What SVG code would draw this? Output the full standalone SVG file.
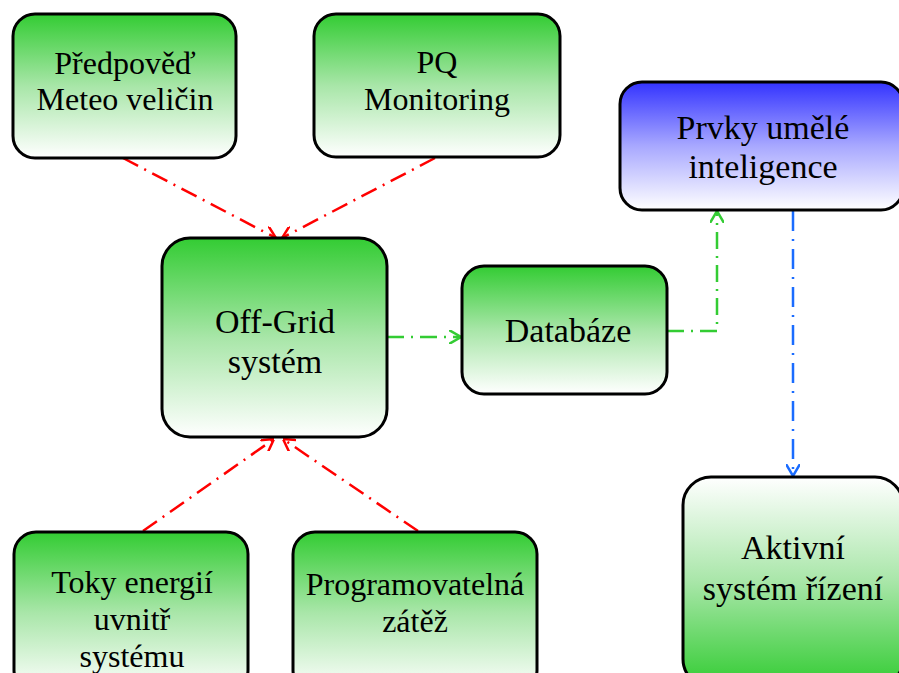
<svg xmlns="http://www.w3.org/2000/svg" width="899" height="673" viewBox="0 0 899 673">
<style>
.box{stroke:#000;stroke-width:3}
.t{font-family:"Liberation Serif","Times New Roman",serif;fill:#000;text-anchor:middle}
.s32{font-size:32px}
.s34{font-size:34px}
.red{stroke:#ff0000;stroke-width:2.5;fill:none;stroke-dasharray:17 7 2 7}
.grn{stroke:#33cc33;stroke-width:2.5;fill:none;stroke-dasharray:17 7 2 7}
.blu{stroke:#1a6cff;stroke-width:2.5;fill:none;stroke-dasharray:20 8 2 8}
</style>
<defs>
<linearGradient id="gDown" x1="0" y1="0" x2="0" y2="1">
<stop offset="0" stop-color="#33cc33"/>
<stop offset="0.5" stop-color="#a8e6a8"/>
<stop offset="1" stop-color="#ffffff"/>
</linearGradient>
<linearGradient id="gUp" x1="0" y1="1" x2="0" y2="0">
<stop offset="0" stop-color="#33cc33"/>
<stop offset="0.5" stop-color="#a8e6a8"/>
<stop offset="1" stop-color="#ffffff"/>
</linearGradient>
<linearGradient id="bDown" x1="0" y1="0" x2="0" y2="1">
<stop offset="0" stop-color="#3333ff"/>
<stop offset="0.5" stop-color="#a8a8ff"/>
<stop offset="1" stop-color="#ffffff"/>
</linearGradient>
<marker id="mRed" viewBox="0 0 12 14" refX="12" refY="7" markerWidth="12" markerHeight="14" markerUnits="userSpaceOnUse" orient="auto">
<path d="M0,0 L12,7 L0,14" fill="none" stroke="#ff0000" stroke-width="2.5"/>
</marker>
<marker id="mGrn" viewBox="0 0 12 14" refX="12" refY="7" markerWidth="12" markerHeight="14" markerUnits="userSpaceOnUse" orient="auto">
<path d="M0,0 L12,7 L0,14" fill="none" stroke="#33cc33" stroke-width="2.5"/>
</marker>
<marker id="mBlu" viewBox="0 0 12 14" refX="12" refY="7" markerWidth="12" markerHeight="14" markerUnits="userSpaceOnUse" orient="auto">
<path d="M0,0 L12,7 L0,14" fill="none" stroke="#1a6cff" stroke-width="2.5"/>
</marker>
</defs>
<rect width="899" height="673" fill="#ffffff"/>
<g id="connectors">
<path class="red" d="M123,158 L276,238" marker-end="url(#mRed)"/>
<path class="red" d="M435,158 L282,238" marker-end="url(#mRed)"/>
<path class="red" d="M143,531 L274,439" marker-end="url(#mRed)"/>
<path class="red" d="M418,531 L283,439" marker-end="url(#mRed)"/>
<path class="grn" d="M387,337 L461,337" marker-end="url(#mGrn)"/>
<path class="grn" d="M667,331 L717,331 L717,211" marker-end="url(#mGrn)"/>
<path class="blu" d="M793,211 L793,476" marker-end="url(#mBlu)"/>
</g>
<g id="node-predpoved">
<rect class="box" x="13" y="14" width="223" height="144" rx="22" fill="url(#gDown)"/>
<text class="t s32" x="125" y="74">Předpověď</text>
<text class="t s32" x="125" y="110">Meteo veličin</text>
</g>
<g id="node-pq">
<rect class="box" x="314" y="14" width="246" height="143" rx="22" fill="url(#gDown)"/>
<text class="t s32" x="437" y="73">PQ</text>
<text class="t s32" x="437" y="110">Monitoring</text>
</g>
<g id="node-prvky">
<rect class="box" x="620" y="82" width="283" height="128" rx="22" fill="url(#bDown)"/>
<text class="t s34" x="763" y="139">Prvky umělé</text>
<text class="t s34" x="763" y="178">inteligence</text>
</g>
<g id="node-offgrid">
<rect class="box" x="162" y="238" width="225" height="199" rx="28" fill="url(#gDown)"/>
<text class="t s34" x="275" y="333">Off-Grid</text>
<text class="t s34" x="275" y="373">systém</text>
</g>
<g id="node-databaze">
<rect class="box" x="462" y="266" width="205" height="128" rx="22" fill="url(#gDown)"/>
<text class="t s34" x="568" y="342">Databáze</text>
</g>
<g id="node-toky">
<rect class="box" x="14" y="532" width="234" height="160" rx="22" fill="url(#gDown)"/>
<text class="t s32" x="132" y="593">Toky energií</text>
<text class="t s32" x="132" y="630">uvnitř</text>
<text class="t s32" x="132" y="667">systému</text>
</g>
<g id="node-program">
<rect class="box" x="293" y="532" width="244" height="160" rx="22" fill="url(#gDown)"/>
<text class="t s32" x="415" y="595">Programovatelná</text>
<text class="t s32" x="415" y="632">zátěž</text>
</g>
<g id="node-aktivni">
<rect class="box" x="683" y="477" width="220" height="210" rx="28" fill="url(#gUp)"/>
<text class="t s34" x="793" y="559">Aktivní</text>
<text class="t s34" x="793" y="600">systém řízení</text>
</g>
</svg>
